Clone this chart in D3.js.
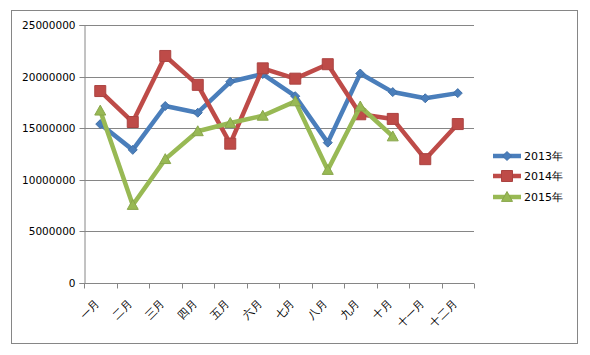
<!DOCTYPE html>
<html><head><meta charset="utf-8">
<script src="https://cdn.jsdelivr.net/npm/d3@7"></script>
<style>body{margin:0;background:#fff}svg text{font-family:"DejaVu Sans",Verdana,sans-serif}</style>
</head><body><svg id="c" width="590" height="355"></svg>
<script>
const categories = ["一月","二月","三月","四月","五月","六月","七月","八月","九月","十月","十一月","十二月"];
const s2013 = [15400000,12900000,17150000,16500000,19500000,20250000,18100000,13600000,20300000,18500000,17900000,18400000];
const s2014 = [18600000,15600000,22000000,19200000,13500000,20800000,19800000,21200000,16350000,15900000,12000000,15400000];
const s2015 = [16700000,7560000,12000000,14700000,15500000,16200000,17600000,10950000,17100000,14200000,null,null];
const seriesNames = ["2013年","2014年","2015年"];
const yTicks = [0,5000000,10000000,15000000,20000000,25000000];

const series = [
  {name:seriesNames[0], values:s2013, color:"#4A7EBB", marker:"diamond"},
  {name:seriesNames[1], values:s2014, color:"#BE4B48", marker:"square"},
  {name:seriesNames[2], values:s2015, color:"#98B954", marker:"triangle"}
];

const svg = d3.select("#c");
svg.append("rect").attr("x",11.5).attr("y",10.5).attr("width",566).attr("height",333)
  .attr("fill","#fff").attr("stroke","#868686").attr("stroke-width",1);

const x = d3.scaleBand().domain(categories).range([84,474]);
const y = d3.scaleLinear().domain([0,25000000]).range([283,25]);

const g = svg.append("g");
// gridlines
g.selectAll("line.grid").data(yTicks).join("line")
  .attr("x1",84).attr("x2",474)
  .attr("y1",d=>Math.round(y(d))+0.5).attr("y2",d=>Math.round(y(d))+0.5)
  .attr("stroke","#868686").attr("stroke-width",1);

// y axis
const ya = g.append("g").attr("transform","translate(84.5,0)")
  .call(d3.axisLeft(y).tickValues(yTicks).tickSize(5).tickFormat(d3.format("d")));
ya.select(".domain").attr("stroke","#868686");
ya.selectAll(".tick line").attr("stroke","#868686");
ya.selectAll(".tick").attr("transform",d=>`translate(0,${Math.round(y(d))+0.5})`);
ya.selectAll("text").attr("font-size","10.5px").attr("fill","#000").attr("x",-9)
  .style("font-family","'DejaVu Sans',Verdana,sans-serif");

// x axis
const xa = g.append("g").attr("transform","translate(0,283.5)");
xa.append("line").attr("x1",84).attr("x2",474).attr("stroke","#868686");
const xt = d3.range(categories.length+1).map(i=>84+i*x.step());
xa.selectAll("line.t").data(xt).join("line").attr("class","t")
  .attr("x1",d=>Math.round(d)+0.5).attr("x2",d=>Math.round(d)+0.5).attr("y1",0).attr("y2",5)
  .attr("stroke","#868686");
xa.selectAll("text").data(categories).join("text")
  .attr("transform",d=>`translate(${x(d)+x.bandwidth()/2},${21}) rotate(-45)`)
  .attr("text-anchor","end")
  .attr("font-size","11px").attr("fill","#000").text(d=>d);

const cx = d => x(d)+x.bandwidth()/2;
function markerPath(type, size){
  const s=size/2;
  if(type==="diamond") return `M0,${-s}L${s},0L0,${s}L${-s},0Z`;
  if(type==="square") return `M${-s},${-s}H${s}V${s}H${-s}Z`;
  return `M0,${-s}L${s},${s*0.8}L${-s},${s*0.8}Z`;
}
const sizes = {diamond:9, square:11, triangle:11};

series.forEach(sr=>{
  const pts = categories.map((c,i)=>({c, v:sr.values[i]})).filter(p=>p.v!=null);
  const line = d3.line().x(p=>cx(p.c)).y(p=>y(p.v));
  g.append("path").attr("d",line(pts)).attr("fill","none").attr("stroke",sr.color)
    .attr("stroke-width",4.5).attr("stroke-linejoin","round").attr("stroke-linecap","round");
  g.selectAll(null).data(pts).join("path")
    .attr("transform",p=>`translate(${cx(p.c)},${y(p.v)})`)
    .attr("d",markerPath(sr.marker,sizes[sr.marker]))
    .attr("fill",sr.color).attr("stroke",d3.color(sr.color).darker(0.3)).attr("stroke-width",1);
});

// legend
const lg = svg.append("g");
const ly = [156,176,197];
series.forEach((sr,i)=>{
  lg.append("line").attr("x1",493).attr("x2",521).attr("y1",ly[i]).attr("y2",ly[i])
    .attr("stroke",sr.color).attr("stroke-width",4.5);
  lg.append("path").attr("transform",`translate(507,${ly[i]})`)
    .attr("d",markerPath(sr.marker,sizes[sr.marker]))
    .attr("fill",sr.color).attr("stroke",d3.color(sr.color).darker(0.3));
  lg.append("text").attr("x",524).attr("y",ly[i]).attr("dy","0.36em")
    .attr("font-size","11px").attr("fill","#000").text(sr.name);
});
</script></body></html>
